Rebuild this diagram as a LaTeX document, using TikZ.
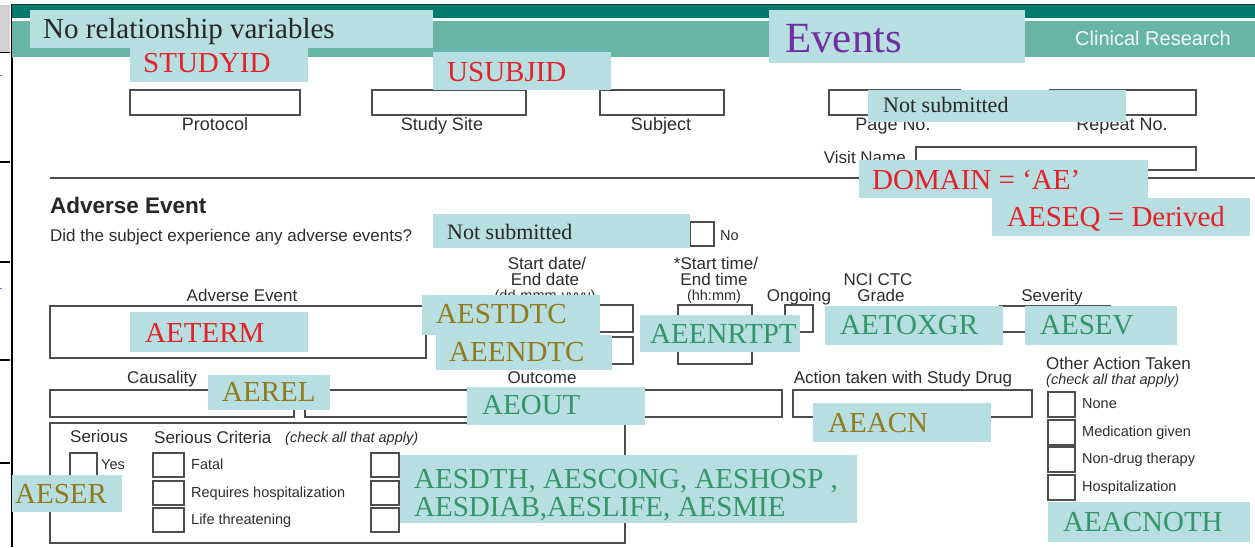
\documentclass[tikz,border=0pt]{standalone}
\usepackage{fontspec}
\setmainfont{Liberation Serif}
\setsansfont{Liberation Sans}
\definecolor{annblue}{RGB}{183,222,224}
\definecolor{tealdark}{RGB}{0,122,108}
\definecolor{tealmid}{RGB}{102,181,168}
\definecolor{formgray}{RGB}{78,78,78}
\definecolor{formtext}{RGB}{45,45,45}
\definecolor{annred}{RGB}{228,32,40}
\definecolor{annolive}{RGB}{145,122,30}
\definecolor{anngreen}{RGB}{52,150,104}
\definecolor{annpurple}{RGB}{112,48,160}
\begin{document}
\begin{tikzpicture}[x=1pt,y=-1pt,
  formbox/.style={draw=formgray,line width=1.6pt},
  lbl/.style={font=\sffamily\fontsize{17}{19}\selectfont,text=formtext,inner sep=0pt,anchor=base},
  lbltop/.style={lbl,font=\sffamily\fontsize{18}{20}\selectfont},
  lblsm/.style={font=\sffamily\fontsize{14.5}{16}\selectfont,text=formtext,inner sep=0pt,anchor=base west},
  lblit/.style={font=\sffamily\itshape\fontsize{14.5}{16}\selectfont,text=formtext,inner sep=0pt,anchor=base west},
  annfill/.style={fill=annblue},
  anntext/.style={font=\fontsize{29}{31}\selectfont,inner sep=0pt,anchor=base west}]
\useasboundingbox (0,0) rectangle (1255,547);
\fill[white] (0,0) rectangle (1255,547);

% ---- page edge on the left
\fill[gray!35] (0,5) rectangle (10,52);
\draw[black,line width=1pt] (0,52) -- (10,52);
\foreach \yy in {162,262,360,463} \draw[black,line width=1.4pt] (0,\yy) -- (10,\yy);
\draw[blue!60,line width=1pt] (0,75) -- (2,75);
\draw[blue!60,line width=1pt] (0,288) -- (2,288);
\draw[black,line width=1.6pt] (12,4) -- (12,547);

% ---- header bands
\fill[tealdark] (12,4) rectangle (1255,18);
\draw[black!80,line width=1pt] (12,4.5) -- (1255,4.5);
\fill[white] (12,18) rectangle (1255,21);
\fill[tealmid] (12,21) rectangle (1255,57);
\node[font=\sffamily\fontsize{20}{22}\selectfont,text=white!92!tealmid,inner sep=0pt,anchor=base west] (hdr) at (1075,45) {Clinical Research};

% ---- identification fields
\draw[formbox] (130,90) rectangle (300,115);
\draw[formbox] (372,90) rectangle (526,115);
\draw[formbox] (600,90) rectangle (724,115);
\draw[formbox] (829,90) rectangle (960,115);
\draw[formbox] (1050,90) rectangle (1196,115);
\node[lbltop] (lprot) at (215,130) {Protocol};
\node[lbltop] (lsite) at (442,130) {Study Site};
\node[lbltop] (lsubj) at (661,130) {Subject};
\node[lbltop] (lpage) at (893,130) {Page No.};
\node[lbltop] (lrep) at (1122,130) {Repeat No.};
\node[lbl,anchor=base east] (lvisit) at (906,163) {Visit Name};
\draw[formbox] (916,147) rectangle (1196,170);
\draw[formgray,line width=2pt] (50,178) -- (1255,178);

% ---- adverse event section
\node[font=\sffamily\bfseries\fontsize{22.5}{25}\selectfont,text=black!85,inner sep=0pt,anchor=base west] (head) at (50,213) {Adverse Event};
\node[lbl,anchor=base west] (quest) at (50,241) {Did the subject experience any adverse events?};
\draw[formbox] (690,222) rectangle (714,246);
\node[lblsm] (lno) at (720,240) {No};

\node[lbl] (lae) at (242,301) {Adverse Event};
\node[lbl] (lsd1) at (547,269) {Start date/};
\node[lbl] (lsd2) at (545,285) {End date};
\node[lbl,font=\sffamily\fontsize{14.5}{16}\selectfont] (lsd3) at (545,300) {(dd-mmm-yyyy)};
\node[lbl] (lst1) at (716,269) {*Start time/};
\node[lbl] (lst2) at (714,285) {End time};
\node[lbl,font=\sffamily\fontsize{14.5}{16}\selectfont] (lst3) at (714,300) {(hh:mm)};
\node[lbl] (long) at (799,301) {Ongoing};
\node[lbl] (lnci1) at (878,285) {NCI CTC};
\node[lbl] (lnci2) at (881,301) {Grade};
\node[lbl] (lsev) at (1052,301) {Severity};

\draw[formbox] (50,306) rectangle (426,358);
\draw[formbox] (440,305) rectangle (633,332);
\draw[formbox] (440,337) rectangle (633,364);
\draw[formbox] (678,305) rectangle (752,332);
\draw[formbox] (678,337) rectangle (752,364);
\draw[formbox] (785,305) rectangle (813,332);
\draw[formbox] (1000,306) rectangle (1110,332);

\node[lbl] (lcaus) at (162,383) {Causality};
\node[lbl] (lout) at (542,383) {Outcome};
\node[lbl] (lact) at (903,383) {Action taken with Study Drug};
\draw[formbox] (50,390) rectangle (294,417);
\draw[formbox] (305,390) rectangle (782,417);
\draw[formbox] (793,390) rectangle (1032,417);

\node[lbl,anchor=base west] (loth) at (1046,369) {Other Action Taken};
\node[lblit] (lothc) at (1046,384) {(check all that apply)};
\draw[formbox] (1048,392) rectangle (1075,417);
\draw[formbox] (1048,420) rectangle (1075,445);
\draw[formbox] (1048,447) rectangle (1075,472);
\draw[formbox] (1048,475) rectangle (1075,500);
\node[lblsm] (lnone) at (1082,408) {None};
\node[lblsm] (lmed) at (1082,436) {Medication given};
\node[lblsm] (lnon) at (1082,463) {Non-drug therapy};
\node[lblsm] (lhosp) at (1082,491) {Hospitalization};

% ---- seriousness block
\draw[formbox] (50,423) rectangle (625,543);
\node[lbl,anchor=base west] (lser) at (70,442) {Serious};
\node[lbl,anchor=base west] (lcrit) at (154,443) {Serious Criteria};
\node[lblit] (lcritc) at (285,442) {(check all that apply)};
\draw[formbox] (70,453) rectangle (97,477);
\node[lblsm] (lyes) at (101,469) {Yes};
\draw[formbox] (153,453) rectangle (184,477);
\draw[formbox] (153,481) rectangle (184,505);
\draw[formbox] (153,508) rectangle (184,532);
\node[lblsm] (lfat) at (191,469) {Fatal};
\node[lblsm] (lreq) at (191,497) {Requires hospitalization};
\node[lblsm] (llife) at (191,524) {Life threatening};
\draw[formbox] (371,453) rectangle (399,477);
\draw[formbox] (371,481) rectangle (399,505);
\draw[formbox] (371,508) rectangle (399,532);

% ---- variable annotations
\fill[annfill] (30,10) rectangle (433,48);
\node[anntext,text=black!85] (anorel) at (43,38) {No relationship variables};
\fill[annfill] (130,48) rectangle (308,82);
\node[anntext,text=annred] (astudy) at (143,72) {STUDYID};
\fill[annfill] (433,52) rectangle (611,90);
\node[anntext,text=annred] (ausub) at (447,81) {USUBJID};
\fill[annfill] (769,10) rectangle (1025,63);
\node[anntext,text=annpurple,font=\fontsize{43}{45}\selectfont] (aevents) at (785,52) {Events};
\fill[annfill] (868,90) rectangle (1126,122);
\node[anntext,text=black!85,font=\fontsize{22}{24}\selectfont] (ans1) at (883,112) {Not submitted};
\fill[annfill] (859,160) rectangle (1148,198);
\node[anntext,text=annred] (adom) at (872,189) {DOMAIN = ‘AE’};
\fill[annfill] (992,198) rectangle (1250,236);
\node[anntext,text=annred] (aseq) at (1007,226) {AESEQ = Derived};
\fill[annfill] (433,214) rectangle (690,248);
\node[anntext,text=black!85,font=\fontsize{22}{24}\selectfont] (ans2) at (447,239) {Not submitted};
\fill[annfill] (130,312) rectangle (308,352);
\node[anntext,text=annred] (aterm) at (145,342) {AETERM};
\fill[annfill] (422,295) rectangle (600,335);
\node[anntext,text=annolive] (astdtc) at (436,323) {AESTDTC};
\fill[annfill] (436,335) rectangle (612,370);
\node[anntext,text=annolive] (aendtc) at (449,361) {AEENDTC};
\fill[annfill] (640,315) rectangle (800,352);
\node[anntext,text=anngreen] (aenrtpt) at (650,343) {AEENRTPT};
\fill[annfill] (825,306) rectangle (1003,345);
\node[anntext,text=anngreen] (atox) at (840,334) {AETOXGR};
\fill[annfill] (1025,306) rectangle (1177,345);
\node[anntext,text=anngreen] (asev) at (1040,334) {AESEV};
\fill[annfill] (208,375) rectangle (330,410);
\node[anntext,text=annolive] (arel) at (222,401) {AEREL};
\fill[annfill] (467,387) rectangle (645,425);
\node[anntext,text=anngreen] (aout) at (482,414) {AEOUT};
\fill[annfill] (813,403) rectangle (991,442);
\node[anntext,text=annolive] (aacn) at (828,432) {AEACN};
\fill[annfill] (12,475) rectangle (122,512);
\node[anntext,text=annolive] (aser) at (15,503) {AESER};
\fill[annfill] (400,455) rectangle (857,523);
\node[anntext,text=anngreen] (acrit1) at (414,488) {AESDTH, AESCONG, AESHOSP ,};
\node[anntext,text=anngreen] (acrit2) at (414,516) {AESDIAB,AESLIFE, AESMIE};
\fill[annfill] (1048,502) rectangle (1250,542);
\node[anntext,text=anngreen] (aacnoth) at (1063,531) {AEACNOTH};
\end{tikzpicture}
\end{document}
